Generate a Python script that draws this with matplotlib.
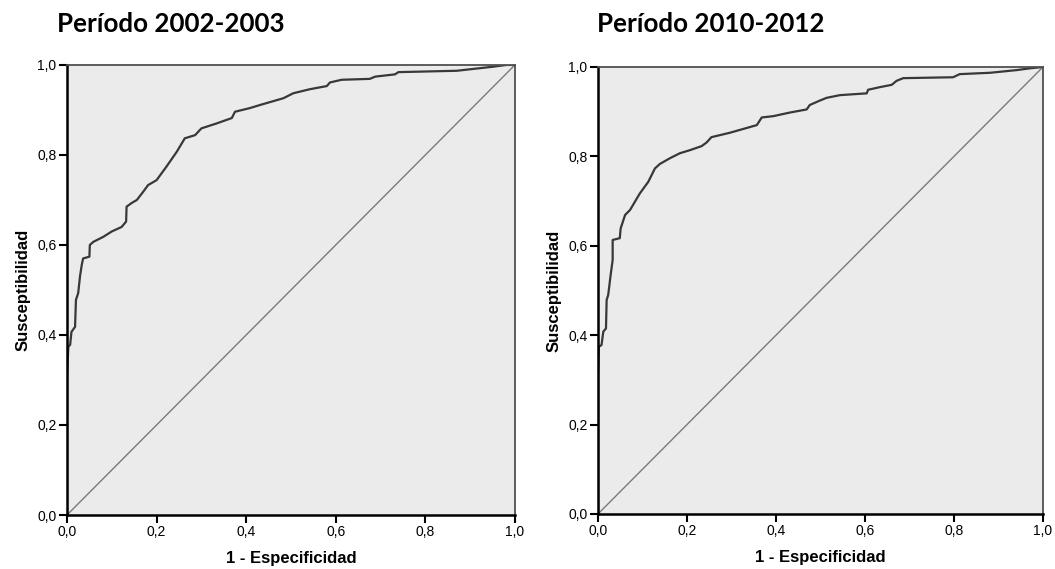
import matplotlib.pyplot as plt

# ROC curve, period 2002-2003 (1 - specificity, sensitivity)
fpr_2002 = [0.0, 0.0, 0.003, 0.007, 0.010, 0.018, 0.020, 0.025, 0.029, 0.033,
            0.036, 0.050, 0.051, 0.059, 0.081, 0.100, 0.122, 0.132, 0.133, 0.144,
            0.156, 0.170, 0.181, 0.200, 0.222, 0.245, 0.263, 0.286, 0.300, 0.334,
            0.368, 0.375, 0.408, 0.431, 0.483, 0.505, 0.542, 0.580, 0.587, 0.613,
            0.676, 0.688, 0.732, 0.740, 0.870, 0.915, 0.951, 0.981, 1.0]
tpr_2002 = [0.0, 0.307, 0.374, 0.378, 0.407, 0.418, 0.478, 0.493, 0.530, 0.556,
            0.570, 0.574, 0.600, 0.607, 0.618, 0.630, 0.640, 0.652, 0.685, 0.693,
            0.700, 0.718, 0.733, 0.744, 0.774, 0.807, 0.837, 0.844, 0.859, 0.870,
            0.882, 0.896, 0.904, 0.911, 0.926, 0.937, 0.946, 0.953, 0.961, 0.967,
            0.969, 0.974, 0.979, 0.984, 0.987, 0.992, 0.996, 1.0, 1.0]

# ROC curve, period 2010-2012
fpr_2010 = [0.0, 0.0, 0.002, 0.008, 0.012, 0.018, 0.0195, 0.023, 0.0285, 0.033,
            0.033, 0.049, 0.051, 0.061, 0.072, 0.094, 0.113, 0.128, 0.139, 0.162,
            0.184, 0.207, 0.233, 0.244, 0.255, 0.297, 0.357, 0.368, 0.394, 0.431,
            0.469, 0.476, 0.499, 0.514, 0.544, 0.574, 0.604, 0.607, 0.634, 0.660,
            0.671, 0.686, 0.798, 0.813, 0.881, 0.941, 0.971, 1.0]
tpr_2010 = [0.0, 0.307, 0.374, 0.378, 0.408, 0.415, 0.479, 0.490, 0.535, 0.568,
            0.613, 0.617, 0.639, 0.669, 0.680, 0.717, 0.743, 0.773, 0.783, 0.796,
            0.807, 0.814, 0.823, 0.831, 0.843, 0.853, 0.870, 0.887, 0.890, 0.898,
            0.905, 0.915, 0.925, 0.931, 0.937, 0.939, 0.941, 0.949, 0.955, 0.960,
            0.969, 0.975, 0.977, 0.984, 0.987, 0.993, 0.997, 1.0]

titles = ["Período 2002-2003", "Período 2010-2012"]
tick_vals = [0.0, 0.2, 0.4, 0.6, 0.8, 1.0]
tick_labels = ["0,0", "0,2", "0,4", "0,6", "0,8", "1,0"]

fig = plt.figure(figsize=(10.55, 5.69), dpi=100)
rects = [[0.0635, 0.0949, 0.4246, 0.791], [0.5668, 0.0967, 0.4218, 0.7856]]
title_x = [57 / 1055, 597 / 1055]
curves = [(fpr_2002, tpr_2002), (fpr_2010, tpr_2010)]

for rect, tx, (fpr, tpr), title in zip(rects, title_x, curves, titles):
    ax = fig.add_axes(rect)
    ax.set_facecolor("#ebebeb")
    ax.plot([0, 1], [0, 1], color="#7a7a7a", lw=1.0)
    ax.plot(fpr, tpr, color="#383838", lw=1.6)
    ax.set_xlim(0, 1)
    ax.set_ylim(0, 1)
    ax.set_xticks(tick_vals)
    ax.set_xticklabels(tick_labels)
    ax.set_yticks(tick_vals)
    ax.set_yticklabels(tick_labels)
    ax.tick_params(direction="out", length=6, width=1.5, pad=1.5,
                   labelsize=10, colors="black")
    for lbl in ax.get_xticklabels() + ax.get_yticklabels():
        lbl.set_family("Liberation Sans")
    for side in ["left", "bottom"]:
        ax.spines[side].set_linewidth(1.8)
        ax.spines[side].set_color("black")
    for side in ["top", "right"]:
        ax.spines[side].set_linewidth(1.3)
        ax.spines[side].set_color("#505050")
    ax.set_xlabel("1 - Especificidad", family="Liberation Sans",
                  fontweight="bold", fontsize=12, labelpad=8)
    ax.set_ylabel("Susceptibilidad", family="Liberation Sans",
                  fontweight="bold", fontsize=12, labelpad=5)
    fig.text(tx, 1 - 24 / 569, title, family="Lato", fontweight="bold",
             fontsize=18.7, ha="left", va="center")

fig.savefig("out.png", dpi=100)
